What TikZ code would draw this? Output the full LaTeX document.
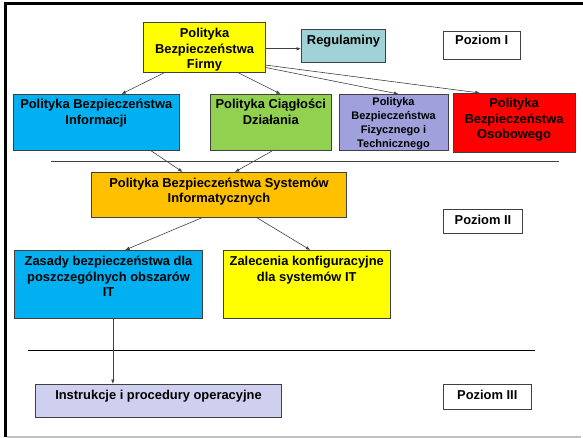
\documentclass[tikz,border=0pt]{standalone}
\usepackage{fontspec}
\setmainfont{Liberation Sans}
\usetikzlibrary{arrows.meta,calc}

\definecolor{edge}{HTML}{404040}
\definecolor{cYellow}{HTML}{FFFF00}
\definecolor{cTeal}{HTML}{9FD2D6}
\definecolor{cCyan}{HTML}{00B0F0}
\definecolor{cGreen}{HTML}{92D050}
\definecolor{cLav}{HTML}{A0A0DC}
\definecolor{cRed}{HTML}{FF0000}
\definecolor{cOrange}{HTML}{FFC000}
\definecolor{cPale}{HTML}{CFCFF0}
\definecolor{cRule}{HTML}{C0C0C0}

\begin{document}
\begin{tikzpicture}[x=1pt,y=-1pt,
  box/.style={draw=edge, line width=1pt, inner sep=0pt, anchor=north west},
  lbl/.style={align=center, anchor=north, inner sep=0pt,
    font=\fontsize{12.9}{15.5}\selectfont\bfseries,
    execute at begin node={\rule{0pt}{10pt}}},
  smalllbl/.style={lbl, font=\fontsize{11}{14}\selectfont\bfseries},
  link/.style={draw=edge, line width=0.6pt, -{Latex[length=4.5pt,width=3.5pt]}},
  sepline/.style={draw=edge, line width=1pt}]

\useasboundingbox (0,0) rectangle (583,438);

% page frame
\draw[black, line width=3pt] (4,3.5) -- (583,3.5);
\draw[black, line width=3pt] (5.5,2) -- (5.5,437);
\draw[cRule, line width=1.5pt] (7,437) -- (581,437);

% level separators
\draw[sepline] (51,161.7) -- (558.5,161.7);
\draw[sepline, draw=black] (28,350.7) -- (535,350.7);

% level I
\node[box, fill=cYellow, minimum width=122pt, minimum height=49.5pt] (firmy) at (143,22.5) {};
\node[lbl] (firmy-t) at ([yshift=-5.5pt]firmy.north) {Polityka\\Bezpieczeństwa\\Firmy};

\node[box, fill=cTeal, minimum width=84pt, minimum height=33pt] (reg) at (301,29) {};
\node[lbl] (reg-t) at ([yshift=-5.5pt]reg.north) {Regulaminy};

\node[box, fill=white, minimum width=77.5pt, minimum height=28pt] (poz1) at (442.5,31) {};
\node[lbl] (poz1-t) at ([yshift=-3.5pt]poz1.north) {Poziom I};

\node[box, fill=cCyan, minimum width=165.5pt, minimum height=56pt] (pbi) at (13,94) {};
\node[lbl] (pbi-t) at ([yshift=-5pt]pbi.north) {Polityka Bezpieczeństwa\\Informacji};

\node[box, fill=cGreen, minimum width=121.5pt, minimum height=56pt] (pcd) at (209.5,94) {};
\node[lbl] (pcd-t) at ([yshift=-5pt]pcd.north) {Polityka Ciągłości\\Działania};

\node[box, fill=cLav, minimum width=109pt, minimum height=56.5pt] (pbft) at (338.5,94) {};
\node[smalllbl] (pbft-t) at ([yshift=-3.7pt]pbft.north) {Polityka\\Bezpieczeństwa\\Fizycznego i\\Technicznego};

\node[box, fill=cRed, minimum width=122pt, minimum height=59.5pt] (pbo) at (452.5,93) {};
\node[lbl] (pbo-t) at ([yshift=-5pt]pbo.north) {Polityka\\Bezpieczeństwa\\Osobowego};

% level II
\node[box, fill=cOrange, minimum width=255pt, minimum height=45pt] (pbsi) at (91,172) {};
\node[lbl] (pbsi-t) at ([yshift=-5.5pt]pbsi.north) {Polityka Bezpieczeństwa Systemów\\Informatycznych};

\node[box, fill=white, minimum width=79pt, minimum height=24.5pt] (poz2) at (443,209) {};
\node[lbl] (poz2-t) at ([yshift=-5pt]poz2.north) {Poziom II};

\node[box, fill=cCyan, minimum width=188pt, minimum height=67.5pt] (zas) at (14,250) {};
\node[lbl] (zas-t) at ([yshift=-6pt]zas.north) {Zasady bezpieczeństwa dla\\poszczególnych obszarów\\IT};

\node[box, fill=cYellow, minimum width=166.5pt, minimum height=67.5pt] (zal) at (223,250) {};
\node[lbl] (zal-t) at ([yshift=-6pt]zal.north) {Zalecenia konfiguracyjne\\dla systemów IT};

% level III
\node[box, fill=cPale, minimum width=246pt, minimum height=32.5pt] (instr) at (35,384) {};
\node[lbl] (instr-t) at ([yshift=-5.5pt]instr.north) {Instrukcje i procedury operacyjne};

\node[box, fill=white, minimum width=88.5pt, minimum height=25pt] (poz3) at (442.5,384) {};
\node[lbl] (poz3-t) at ([yshift=-5.5pt]poz3.north) {Poziom III};

% connectors
\coordinate (firmy-out) at ($(firmy.north east)!0.52!(firmy.south east)$);
\draw[link] (firmy-out) -- (firmy-out -| reg.west);
\draw[link] ($(firmy.south west)!0.169!(firmy.south east)$) -- ($(pbi.north west)!0.651!(pbi.north east)$);
\draw[link] ($(firmy.south west)!0.779!(firmy.south east)$) -- ($(pcd.north west)!0.581!(pcd.north east)$);
\draw[link] ($(firmy.north east)!0.893!(firmy.south east)$) -- ($(pbft.north west)!0.545!(pbft.north east)$);
\draw[link] ($(firmy.north east)!0.844!(firmy.south east)$) -- ($(pbo.north west)!0.222!(pbo.north east)$);

\draw[link] ($(pbi.south west)!0.831!(pbi.south east)$) -- ($(pbsi.north west)!0.358!(pbsi.north east)$);
\draw[link] ($(pcd.south west)!0.51!(pcd.south east)$) -- ($(pbsi.north west)!0.562!(pbsi.north east)$);

\draw[link] ($(pbsi.south west)!0.431!(pbsi.south east)$) -- ($(zas.north west)!0.588!(zas.north east)$);
\draw[link] ($(pbsi.south west)!0.65!(pbsi.south east)$) -- ($(zal.north west)!0.521!(zal.north east)$);

\coordinate (zas-out) at ($(zas.south west)!0.523!(zas.south east)$);
\draw[link] (zas-out) -- (zas-out |- instr.north);

\end{tikzpicture}
\end{document}
